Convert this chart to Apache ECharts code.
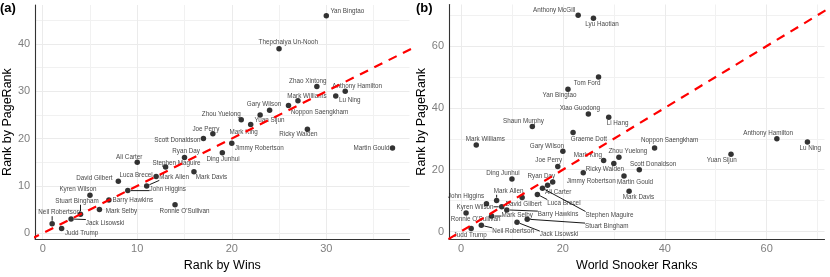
<!DOCTYPE html>
<html><head><meta charset="utf-8">
<script src="https://cdn.jsdelivr.net/npm/echarts@6/dist/echarts.min.js"></script>
<style>html,body{margin:0;padding:0;background:#fff}#c{width:830px;height:277px}</style>
</head><body><div id="c"></div>
<script>
// ---------------- data ----------------
const playersA = ["Neil Robertson","Judd Trump","Jack Lisowski","Stuart Bingham","Kyren Wilson","Mark Selby","Barry Hawkins","David Gilbert","John Higgins","Ali Carter","Mark Allen","Luca Brecel","Stephen Maguire","Ronnie O'Sullivan","Ryan Day","Mark Davis","Scott Donaldson","Joe Perry","Ding Junhui","Jimmy Robertson","Zhou Yuelong","Mark King","Yuan Sijun","Gary Wilson","Thepchaiya Un-Nooh","Noppon Saengkham","Mark Williams","Ricky Walden","Zhao Xintong","Yan Bingtao","Lu Ning","Anthony Hamilton","Martin Gould"];
const winsRankA = [1,2,3,4,5,6,7,8,9,10,11,12,13,14,15,16,17,18,19,20,21,22,23,24,25,26,27,28,29,30,31,32,37];
const pageRankA = [2,1,3,4,8,5,7,11,9,15,10,12,14,6,16,13,20,21,17,19,24,23,25,26,39,27,28,22,31,46,29,30,18];

const playersB = ["Ronnie O'Sullivan","Judd Trump","Mark Williams","Neil Robertson","John Higgins","Mark Selby","Mark Allen","Kyren Wilson","Barry Hawkins","Ding Junhui","Jack Lisowski","David Gilbert","Stuart Bingham","Shaun Murphy","Luca Brecel","Stephen Maguire","Ali Carter","Ryan Day","Joe Perry","Gary Wilson","Yan Bingtao","Graeme Dott","Anthony McGill","Jimmy Robertson","Xiao Guodong","Lyu Haotian","Tom Ford","Mark King","Li Hang","Ricky Walden","Zhou Yuelong","Martin Gould","Mark Davis","Scott Donaldson","Noppon Saengkham","Yuan Sijun","Anthony Hamilton","Lu Ning"];
const worldRankB = [1,2,3,4,5,6,7,8,9,10,11,12,13,14,15,16,17,18,19,20,21,22,23,24,25,26,27,28,29,30,31,32,33,35,38,53,62,68];
const pageRankB = [6,1,28,2,9,5,10,8,7,17,3,11,4,34,12,14,15,16,21,26,46,32,70,19,38,69,50,23,37,22,24,18,13,20,27,25,30,29];

const xTitles = ["Rank by Wins", "World Snooker Ranks"];
const yTitle = "Rank by PageRank";
const panelTags = ["(a)", "(b)"];

// ---------------- label placement (layout only: px offset of label centre, segment flag) ----------------
const nudgeA = {
  "Neil Robertson":[7,-11,1],"Judd Trump":[20,5],"Jack Lisowski":[34,4,1],"Stuart Bingham":[-3.5,-13,1],
  "Kyren Wilson":[-12,-6],"Mark Selby":[22,2],"Barry Hawkins":[24,0],"David Gilbert":[-24,-3],
  "John Higgins":[40,-1.5,1],"Ali Carter":[-8,-5],"Mark Allen":[27.5,-9,1],"Luca Brecel":[-20,-1],
  "Stephen Maguire":[11,-4],"Ronnie O'Sullivan":[9.5,6],"Ryan Day":[1.6,-6],"Mark Davis":[17.5,5.7],
  "Scott Donaldson":[-26,2],"Joe Perry":[-7,-5],"Ding Junhui":[0.7,6.6],"Jimmy Robertson":[27.5,4.7],
  "Zhou Yuelong":[-20,-5.3],"Mark King":[-7,8],"Yuan Sijun":[9.3,5.7],"Gary Wilson":[-5.6,-5.6],
  "Thepchaiya Un-Nooh":[9.3,-6],"Noppon Saengkham":[31,6.3],"Mark Williams":[9,-5],"Ricky Walden":[-9,5.3],
  "Zhao Xintong":[-9,-5.3],"Yan Bingtao":[21,-4.7],"Lu Ning":[14,4],"Anthony Hamilton":[12,-5],"Martin Gould":[-21,0]
};
const nudgeB = {
  "Anthony McGill":[-24,-5],"Lyu Haotian":[8.6,5.7],"Tom Ford":[-11.4,6],"Yan Bingtao":[-8.5,6],
  "Xiao Guodong":[-8.5,-6],"Li Hang":[8.8,5.7],"Shaun Murphy":[-8.8,-4.7],"Graeme Dott":[15.8,6.3],
  "Mark Williams":[9,-5.3],"Gary Wilson":[-16,-5],"Noppon Saengkham":[15,-7.4],"Zhou Yuelong":[9,-6],
  "Mark King":[-15.7,-5],"Ricky Walden":[-9,5.7],"Joe Perry":[-9,-6],"Scott Donaldson":[13.8,-5],
  "Jimmy Robertson":[8,8],"Martin Gould":[11,6],"Mark Davis":[9.3,5.7],"Ding Junhui":[-9,-5.4],
  "Ryan Day":[-11.3,-6],"Ali Carter":[10.6,7.4,1],"Stephen Maguire":[67,26.7,1],"Luca Brecel":[26.5,8.6,1],
  "John Higgins":[-20.5,-7.6],"Mark Allen":[12,-9.3,1],"David Gilbert":[1.5,6.4],"Kyren Wilson":[-26.7,0.6,1],
  "Barry Hawkins":[51.3,4.7,1],"Mark Selby":[25.7,-1.3,1],"Ronnie O'Sullivan":[9.5,6.6],"Stuart Bingham":[79.5,7.4,1],
  "Jack Lisowski":[42,12.3,1],"Neil Robertson":[31.8,6,1],"Judd Trump":[-1,6.7],"Anthony Hamilton":[-8.7,-5.7],
  "Lu Ning":[2.8,6.3],"Yuan Sijun":[-9.3,6]
};

// ---------------- helpers ----------------
const FONT = "Liberation Sans, Arial, sans-serif";
const LABEL_SIZE = 6.3;
const measureCtx = document.createElement('canvas').getContext('2d');
measureCtx.font = LABEL_SIZE + 'px Liberation Sans';
function textW(s){ return measureCtx.measureText(s).width; }
function ext(a){ const mn=Math.min(...a), mx=Math.max(...a), p=(mx-mn)*0.05; return [mn-p, mx+p]; }

function makeAxis(kind, gi, range, split, title, gap){
  return {
    type:'value', gridIndex:gi, min:range[0], max:range[1], splitNumber:split,
    axisLine:{show:true, onZero:false, lineStyle:{color:'#333', width:1.1}},
    axisTick:{show:false},
    axisLabel:{color:'#7f7f7f', fontSize:11, fontFamily:FONT, margin: kind==='x'?4:5,
      showMinLabel:false, showMaxLabel:false,
      formatter:(v)=> (Math.abs(v-Math.round(v))<1e-6 ? String(Math.round(v)) : '')},
    splitLine:{show:true, showMinLine:false, showMaxLine:false, lineStyle:{color:'#ebebeb', width:1}},
    minorTick:{show:false, splitNumber:2},
    minorSplitLine:{show:true, lineStyle:{color:'#f1f1f1', width:1}},
    name:title, nameLocation:'middle', nameGap:gap,
    nameTextStyle:{color:'#000', fontSize:12.5, fontFamily:FONT}
  };
}

function scatterSeries(gi, names, xs, ys, nudge){
  const offs = names.map(n => nudge[n] || [0,-6]);
  return {
    type:'scatter', xAxisIndex:gi, yAxisIndex:gi, symbol:'circle', symbolSize:5.5,
    itemStyle:{color:'#000'}, z:3,
    data: names.map((n,i)=>({name:n, value:[xs[i], ys[i]]})),
    label:{show:true, position:'inside', formatter:'{b}', fontSize:LABEL_SIZE, color:'#111', fontFamily:FONT},
    labelLayout:(p)=>{
      const o = offs[p.dataIndex];
      return {x:p.rect.x+p.rect.width/2+o[0], y:p.rect.y+p.rect.height/2+o[1], align:'center', verticalAlign:'middle'};
    }
  };
}

// repel-style segments from each point to its (nudged) label box
function segmentSeries(gi, names, xs, ys, nudge){
  const idx = names.map((n,i)=>i).filter(i => nudge[names[i]] && nudge[names[i]][2]);
  return {
    type:'custom', xAxisIndex:gi, yAxisIndex:gi, z:2, silent:true,
    data: idx.map(i => [xs[i], ys[i], i]),
    renderItem:(params, api)=>{
      const i = api.value(2);
      const p = api.coord([api.value(0), api.value(1)]);
      const o = nudge[names[i]];
      const w = textW(names[i]), h = LABEL_SIZE*1.1;
      const cx = p[0]+o[0], cy = p[1]+o[1];
      const qx = Math.max(cx-w/2, Math.min(p[0], cx+w/2));
      const qy = Math.max(cy-h/2, Math.min(p[1], cy+h/2));
      const dx = qx-p[0], dy = qy-p[1], d = Math.hypot(dx,dy);
      if (d < 4) return null;
      const s = 3/d;
      return {type:'line', shape:{x1:p[0]+dx*s, y1:p[1]+dy*s, x2:qx, y2:qy},
        style:{stroke:'#000', lineWidth:0.9}};
    }
  };
}

function diagSeries(gi, xr, yr){
  const lo = Math.min(xr[0], yr[0]), hi = Math.max(xr[1], yr[1]);
  return {type:'line', xAxisIndex:gi, yAxisIndex:gi, data:[[lo,lo],[hi,hi]], symbol:'none', clip:true, silent:true, z:10,
    lineStyle:{color:'#ff0000', width:2.2, type:[9,7]}};
}

const xrA = ext(winsRankA), yrA = ext(pageRankA);
const xrB = ext(worldRankB), yrB = ext(pageRankB);

const chart = echarts.init(document.getElementById('c'), null, {renderer:'canvas'});
chart.setOption({
  animation:false,
  backgroundColor:'#fff',
  title:[
    {text:panelTags[0], left:0, top:2, padding:0, textStyle:{fontSize:13, fontWeight:'bold', color:'#000', fontFamily:FONT}},
    {text:panelTags[1], left:416, top:2, padding:0, textStyle:{fontSize:13, fontWeight:'bold', color:'#000', fontFamily:FONT}}
  ],
  grid:[
    {left:34, right:420.5, top:5, bottom:32},
    {left:449, right:5.5, top:4.5, bottom:32}
  ],
  xAxis:[ makeAxis('x',0,xrA,4,xTitles[0],14), makeAxis('x',1,xrB,4,xTitles[1],14) ],
  yAxis:[ makeAxis('y',0,yrA,5,yTitle,17), makeAxis('y',1,yrB,4,yTitle,17) ],
  series:[
    segmentSeries(0, playersA, winsRankA, pageRankA, nudgeA),
    scatterSeries(0, playersA, winsRankA, pageRankA, nudgeA),
    diagSeries(0, xrA, yrA),
    segmentSeries(1, playersB, worldRankB, pageRankB, nudgeB),
    scatterSeries(1, playersB, worldRankB, pageRankB, nudgeB),
    diagSeries(1, xrB, yrB)
  ]
});
</script></body></html>
